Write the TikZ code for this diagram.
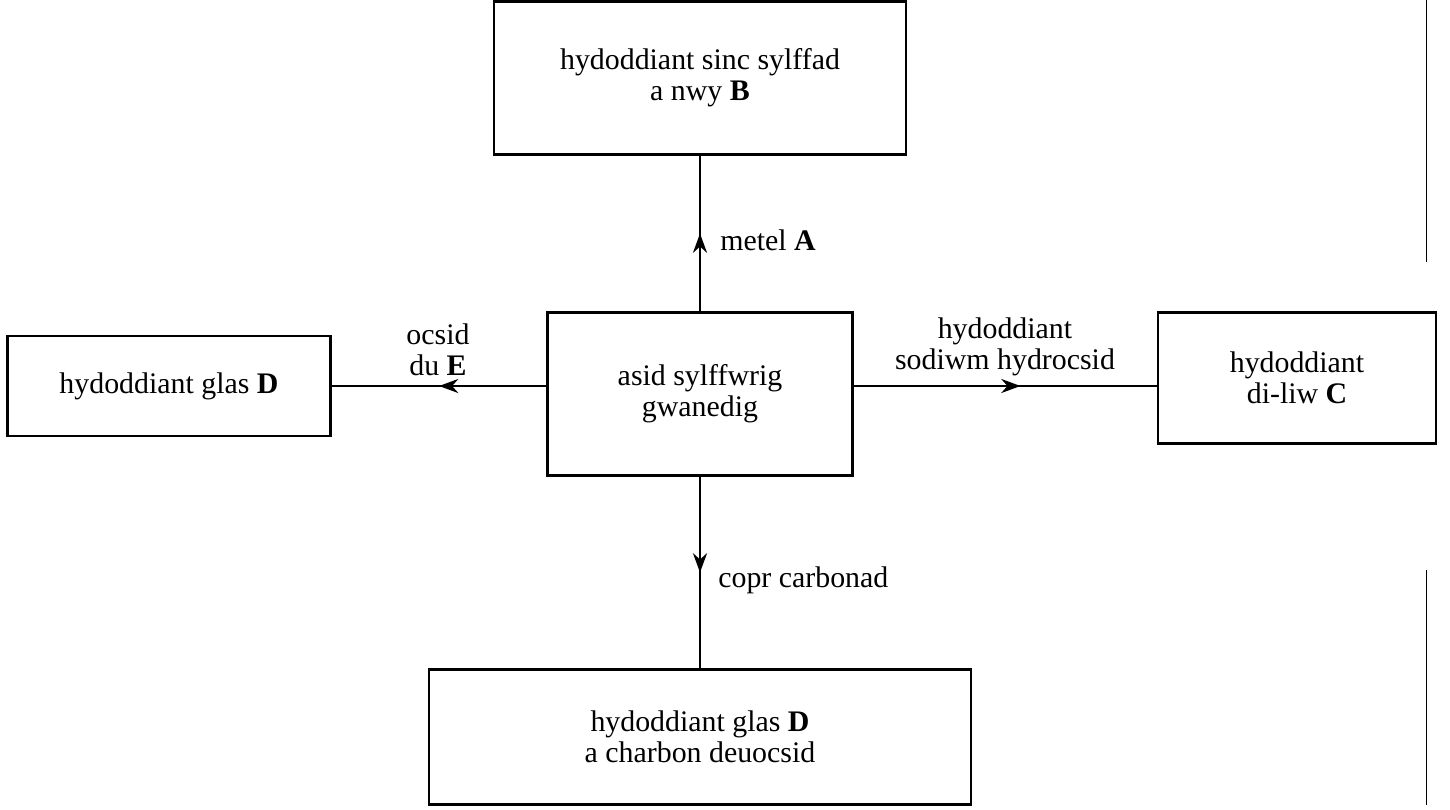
\documentclass[tikz,border=0pt]{standalone}
\usepackage{fontspec}
\setmainfont{Liberation Serif}
\usetikzlibrary{arrows.meta,decorations.markings}

\begin{document}
\begin{tikzpicture}[x=0.02cm,y=-0.02cm,
  box/.style={draw,line width=1.5pt,inner sep=0pt,outer sep=0pt,align=center,
    font=\fontsize{17}{17.5}\selectfont},
  lbl/.style={align=center,inner sep=0pt,font=\fontsize{17}{17.5}\selectfont},
  flow/.style={line width=1.3pt,postaction={decorate},
    decoration={markings,mark=at position #1 with {\arrow{Stealth[length=11pt,width=8pt]}}}},
  flow/.default=0.5]
\useasboundingbox (0,0) rectangle (1450,809);
% boxes
\node[box,minimum width=8.24cm,minimum height=3.06cm] (zinc) at (700,78)
  {hydoddiant sinc sylffad\\a nwy \textbf{B}};
\node[box,minimum width=6.1cm,minimum height=3.26cm] (acid) at (700,394)
  {asid sylffwrig\\gwanedig};
\node[box,minimum width=6.46cm,minimum height=2cm] (blue) at (169,386)
  {hydoddiant glas \textbf{D}};
\node[box,minimum width=5.56cm,minimum height=2.62cm] (clear) at (1297,378)
  {hydoddiant\\di-liw \textbf{C}};
\node[box,minimum width=10.84cm,minimum height=2.7cm] (copper) at (700,737)
  {hydoddiant glas \textbf{D}\\a charbon deuocsid};
% connectors
\draw[flow] (acid.west |- blue.east) -- (blue.east);
\draw[flow=0.55] (acid.east |- blue.east) -- (clear.west |- blue.east);
\draw[flow] (acid.north) -- (zinc.south);
\draw[flow] (acid.south) -- (copper.north);
% labels
\node[lbl,anchor=west] (metal) at (720,240) {metel \textbf{A}};
\node[lbl,anchor=south] (oxide) at (438,376) {ocsid\\du \textbf{E}};
\node[lbl,anchor=south] (soda) at (1005,376) {hydoddiant\\sodiwm hydrocsid};
\node[lbl,anchor=west] (carb) at (718,580) {copr carbonad};
% margin rule
\draw[line width=0.4pt] (1426,0) -- (1426,262);
\draw[line width=0.4pt] (1426,570) -- (1426,805);
\end{tikzpicture}
\end{document}
